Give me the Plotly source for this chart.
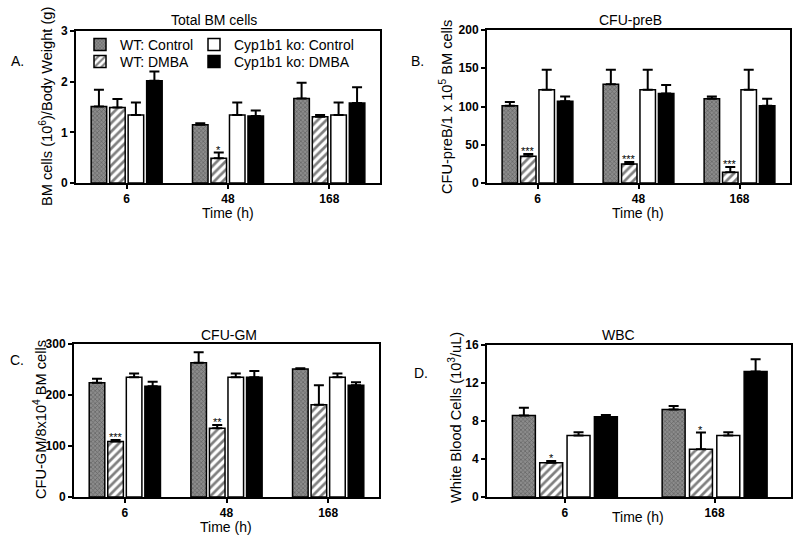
import plotly.graph_objects as go

# ---------------- data ----------------
times_abc = ["6", "48", "168"]
times_d = ["6", "168"]

series_names = ["WT: Control", "WT: DMBA", "Cyp1b1 ko: Control", "Cyp1b1 ko: DMBA"]

# Panel A: Total BM cells
A_wt_ctrl = [1.51, 1.15, 1.67]
A_wt_ctrl_err = [0.33, 0.03, 0.31]
A_wt_dmba = [1.49, 0.49, 1.31]
A_wt_dmba_err = [0.17, 0.11, 0.03]
A_ko_ctrl = [1.34, 1.34, 1.34]
A_ko_ctrl_err = [0.25, 0.25, 0.25]
A_ko_dmba = [2.02, 1.32, 1.58]
A_ko_dmba_err = [0.18, 0.11, 0.31]
A_stars = ["", "*", ""]

# Panel B: CFU-preB
B_wt_ctrl = [101, 129, 110]
B_wt_ctrl_err = [5, 19, 3]
B_wt_dmba = [35, 25, 14]
B_wt_dmba_err = [3, 2.5, 7]
B_ko_ctrl = [122, 122, 122]
B_ko_ctrl_err = [26, 26, 26]
B_ko_dmba = [107, 117, 101]
B_ko_dmba_err = [6, 11, 9]
B_stars = ["***", "***", "***"]

# Panel C: CFU-GM
C_wt_ctrl = [224, 263, 251]
C_wt_ctrl_err = [8, 21, 1.5]
C_wt_dmba = [109, 135, 181]
C_wt_dmba_err = [3, 6, 38]
C_ko_ctrl = [235, 235, 235]
C_ko_ctrl_err = [7, 7, 7]
C_ko_dmba = [217, 235, 219]
C_ko_dmba_err = [9, 12, 6]
C_stars = ["***", "**", ""]

# Panel D: WBC
D_wt_ctrl = [8.57, 9.2]
D_wt_ctrl_err = [0.83, 0.38]
D_wt_dmba = [3.6, 5.03]
D_wt_dmba_err = [0.2, 1.75]
D_ko_ctrl = [6.47, 6.47]
D_ko_ctrl_err = [0.35, 0.35]
D_ko_dmba = [8.46, 13.2]
D_ko_dmba_err = [0.18, 1.3]
D_stars = ["*", "*"]

# ---------------- styling ----------------
FONT = "Liberation Sans, Arial, sans-serif"
BARGAP = 0.27
GROUPGAP = 0.16

styles = [
    dict(color="#6e6e6e", line=dict(color="black", width=1.5),
         pattern=dict(shape="x", size=3, solidity=0.4, fgcolor="#3a3a3a", bgcolor="#8c8c8c")),
    dict(color="white", line=dict(color="black", width=1.5),
         pattern=dict(shape="/", size=6, solidity=0.45, fgcolor="black", bgcolor="white")),
    dict(color="white", line=dict(color="black", width=1.5)),
    dict(color="black", line=dict(color="black", width=1.5)),
]
legend_ids = ["legend", "legend2", "legend3", "legend4"]

fig = go.Figure()

panels = [
    ("1", times_abc,
     [(A_wt_ctrl, A_wt_ctrl_err), (A_wt_dmba, A_wt_dmba_err), (A_ko_ctrl, A_ko_ctrl_err), (A_ko_dmba, A_ko_dmba_err)],
     A_stars),
    ("2", times_abc,
     [(B_wt_ctrl, B_wt_ctrl_err), (B_wt_dmba, B_wt_dmba_err), (B_ko_ctrl, B_ko_ctrl_err), (B_ko_dmba, B_ko_dmba_err)],
     B_stars),
    ("3", times_abc,
     [(C_wt_ctrl, C_wt_ctrl_err), (C_wt_dmba, C_wt_dmba_err), (C_ko_ctrl, C_ko_ctrl_err), (C_ko_dmba, C_ko_dmba_err)],
     C_stars),
    ("4", times_d,
     [(D_wt_ctrl, D_wt_ctrl_err), (D_wt_dmba, D_wt_dmba_err), (D_ko_ctrl, D_ko_ctrl_err), (D_ko_dmba, D_ko_dmba_err)],
     D_stars),
]

annotations = []
slot = (1 - BARGAP) / 4

for pid, cats, series, stars in panels:
    xa = "x" if pid == "1" else "x" + pid
    ya = "y" if pid == "1" else "y" + pid
    for i, ((vals, errs), name, st) in enumerate(zip(series, series_names, styles)):
        fig.add_trace(go.Bar(
            x=cats, y=vals, name=name, marker=st,
            error_y=dict(type="data", symmetric=False, array=errs, arrayminus=[0] * len(errs),
                         color="black", thickness=2, width=5),
            xaxis=xa, yaxis=ya, showlegend=(pid == "1"),
            legend=legend_ids[i],
        ))
    # significance stars above WT:DMBA bars
    vals, errs = series[1]
    for k, s in enumerate(stars):
        if s:
            annotations.append(dict(
                x=k - 0.5 * slot, y=vals[k] + errs[k], xref=xa, yref=ya,
                text=s, showarrow=False, yanchor="bottom", yshift=-5,
                font=dict(family=FONT, size=11, color="black")))

W, H = 800, 541


def px(x):
    return x / W


def py(y):
    return 1 - y / H


domains = {
    "1": ((76, 380), (31, 183)),
    "2": ((487, 790), (30, 183)),
    "3": ((74, 379), (344, 497)),
    "4": ((487, 791), (345, 497)),
}
yranges = {"1": ([0, 3], 1), "2": ([0, 200], 50), "3": ([0, 300], 100), "4": ([0, 16], 4)}
xranges = {"1": [-0.5, 2.5], "2": [-0.5, 2.5], "3": [-0.5, 2.5], "4": [-0.52, 1.51]}

axis_common = dict(showline=True, linecolor="black", linewidth=2, mirror=True,
                   ticks="outside", ticklen=4, tickwidth=2, tickcolor="black",
                   showgrid=False, zeroline=False, automargin=False,
                   tickfont=dict(family=FONT, size=12, color="black", weight="bold"))

layout_axes = {}
for pid, ((x0, x1), (y0, y1)) in domains.items():
    xn = "xaxis" if pid == "1" else "xaxis" + pid
    yn = "yaxis" if pid == "1" else "yaxis" + pid
    anchor_y = "y" if pid == "1" else "y" + pid
    anchor_x = "x" if pid == "1" else "x" + pid
    layout_axes[xn] = dict(domain=[px(x0), px(x1)], anchor=anchor_y, type="category",
                           range=xranges[pid], **axis_common)
    layout_axes[yn] = dict(domain=[py(y1), py(y0)], anchor=anchor_x,
                           range=yranges[pid][0], dtick=yranges[pid][1], **axis_common)

# titles, axis titles, panel labels
texts = [
    ("Total BM cells", 214, 20), ("CFU-preB", 630, 20),
    ("CFU-GM", 229, 335), ("WBC", 618, 335),
    ("Time (h)", 228, 213), ("Time (h)", 638, 213),
    ("Time (h)", 226, 527), ("Time (h)", 638, 517),
    ("A.", 17, 61), ("B.", 417, 61), ("C.", 17, 360), ("D.", 421, 373),
]
for t, x, y in texts:
    annotations.append(dict(text=t, x=px(x), y=py(y), xref="paper", yref="paper",
                            showarrow=False, xanchor="center", yanchor="middle",
                            font=dict(family=FONT, size=14, color="black")))

ytitles = [
    ("BM cells (10<sup>6</sup>)/Body Weight (g)", 46, 107),
    ("CFU-preB/1 x 10<sup>5</sup> BM cells", 446, 107),
    ("CFU-GM/8x10<sup>4</sup> BM cells", 40, 420),
    ("White Blood Cells (10<sup>3</sup>/uL)", 455, 418),
]
for t, x, y in ytitles:
    annotations.append(dict(text=t, x=px(x), y=py(y), xref="paper", yref="paper",
                            showarrow=False, textangle=-90, xanchor="center", yanchor="middle",
                            font=dict(family=FONT, size=14.6, color="black")))

legend_style = dict(bgcolor="rgba(0,0,0,0)", borderwidth=0,
                    font=dict(family=FONT, size=14, color="black"),
                    orientation="v", yanchor="middle", xanchor="left")

# legend rows (pixel centres) for each of the four entries
legend_pos = [(80, 45), (80, 62), (194, 45), (194, 62)]
legends = {}
for lid, (lx, ly) in zip(legend_ids, legend_pos):
    legends[lid] = dict(x=px(lx), y=py(ly), **legend_style)

fig.update_layout(
    width=W, height=H, margin=dict(l=0, r=0, t=0, b=0, autoexpand=False),
    paper_bgcolor="white", plot_bgcolor="white",
    barmode="group", bargap=BARGAP, bargroupgap=GROUPGAP,
    font=dict(family=FONT, color="black"),
    annotations=annotations,
    **legends,
    **layout_axes,
)

fig.write_html(
    "out.html",
    config={"displayModeBar": False},
    post_script="document.body.style.margin='0';document.body.style.overflow='hidden';",
)
